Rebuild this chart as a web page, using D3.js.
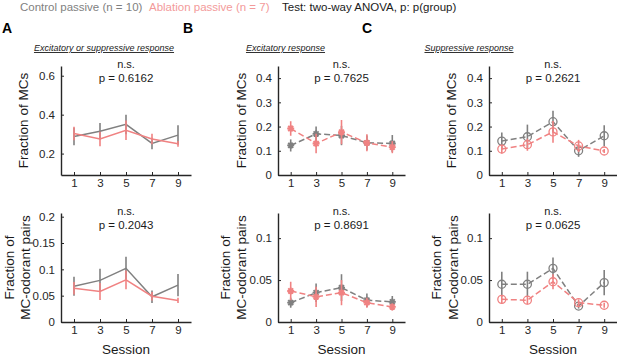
<!DOCTYPE html>
<html>
<head>
<meta charset="utf-8">
<script src="https://cdn.jsdelivr.net/npm/d3@7"></script>
<style>
  body { margin: 0; background: #fff; }
  svg { font-family: "Liberation Sans", Arial, sans-serif; }
</style>
</head>
<body>
<svg id="drawing_region"></svg>
<script>
const sessions = [1, 3, 5, 7, 9];

// A: excitatory or suppressive
const aCellsCtrl    = [0.288, 0.315, 0.350, 0.252, 0.295];
const aCellsCtrlErr = [0.045, 0.042, 0.050, 0.030, 0.050];
const aCellsAbl     = [0.303, 0.275, 0.320, 0.275, 0.250];
const aCellsAblErr  = [0.035, 0.037, 0.050, 0.027, 0.015];
const aPairsCtrl    = [0.068, 0.079, 0.102, 0.048, 0.070];
const aPairsCtrlErr = [0.018, 0.022, 0.022, 0.012, 0.021];
const aPairsAbl     = [0.064, 0.058, 0.080, 0.049, 0.041];
const aPairsAblErr  = [0.012, 0.016, 0.018, 0.008, 0.005];

// B: excitatory
const bCellsCtrl    = [0.122, 0.170, 0.163, 0.133, 0.130];
const bCellsCtrlErr = [0.025, 0.030, 0.040, 0.030, 0.035];
const bCellsAbl     = [0.192, 0.130, 0.177, 0.133, 0.115];
const bCellsAblErr  = [0.030, 0.040, 0.050, 0.035, 0.025];
const bPairsCtrl    = [0.023, 0.035, 0.041, 0.026, 0.024];
const bPairsCtrlErr = [0.006, 0.011, 0.016, 0.008, 0.007];
const bPairsAbl     = [0.037, 0.030, 0.035, 0.023, 0.018];
const bPairsAblErr  = [0.011, 0.012, 0.015, 0.006, 0.004];

// C: suppressive
const cCellsCtrl    = [0.140, 0.158, 0.220, 0.100, 0.162];
const cCellsCtrlErr = [0.035, 0.050, 0.045, 0.025, 0.043];
const cCellsAbl     = [0.107, 0.125, 0.178, 0.120, 0.099];
const cCellsAblErr  = [0.018, 0.025, 0.045, 0.025, 0.008];
const cPairsCtrl    = [0.045, 0.045, 0.064, 0.019, 0.047];
const cPairsCtrlErr = [0.015, 0.015, 0.013, 0.003, 0.015];
const cPairsAbl     = [0.027, 0.026, 0.048, 0.023, 0.020];
const cPairsAblErr  = [0.005, 0.005, 0.009, 0.004, 0.003];

const pValues = ['0.6162', '0.2043', '0.7625', '0.8691', '0.2621', '0.0625'];
const panelTitles = ['Excitatory or suppressive response', 'Excitatory response', 'Suppressive response'];
const panelLetters = ['A', 'B', 'C'];
const legendLabels = ['Control passive (n = 10)', 'Ablation passive (n = 7)', 'Test: two-way ANOVA, p: p(group)'];

const ticksCellsA = [0.2, 0.4, 0.6];
const ticksPairsA = [0, 0.05, 0.1, 0.15, 0.2];
const ticksCells  = [0, 0.1, 0.2, 0.3, 0.4];
const ticksPairs  = [0, 0.05, 0.1];

const GREY = '#808080';
const PINK = '#f08282';
const AXIS = '#262626';

const svg = d3.select('#drawing_region')
  .attr('width', 617)
  .attr('height', 356);

// legend line
const legendX = [20, 149, 282];
const legendColors = ['#7f7f7f', '#f39a9a', '#1a1a1a'];
legendLabels.forEach((t, i) => {
  svg.append('text')
    .attr('x', legendX[i]).attr('y', 10.5)
    .attr('font-size', 11.5)
    .attr('fill', legendColors[i])
    .text(t);
});

// panel letters and titles
const letterX = [2, 183, 362];
const titleX = [104, 285.5, 469];
panelLetters.forEach((l, i) => {
  svg.append('text')
    .attr('x', letterX[i]).attr('y', 32.5)
    .attr('font-size', 14).attr('font-weight', 'bold')
    .text(l);
  svg.append('text')
    .attr('x', titleX[i]).attr('y', 51)
    .attr('text-anchor', 'middle')
    .attr('font-size', 9).attr('font-style', 'italic')
    .attr('text-decoration', 'underline')
    .attr('fill', '#1a1a1a')
    .text(panelTitles[i]);
});

class Panel {
  constructor(config) {
    this.config = config;
    this.init();
  }
  init() {
    const c = this.config;
    this.xscale = d3.scaleLinear().domain([0, 10]).range(c.xrange);
    this.yscale = d3.scaleLinear().domain(c.ydomain).range(c.yrange);

    this.xaxis = d3.axisBottom(this.xscale)
      .tickValues(sessions)
      .tickFormat(d3.format('d'))
      .tickSizeInner(-3)
      .tickSizeOuter(0)
      .tickPadding(4);

    this.yaxis = d3.axisLeft(this.yscale)
      .tickValues(c.yticks)
      .tickFormat(d => String(d))
      .tickSizeInner(-3)
      .tickSizeOuter(0)
      .tickPadding(6);
  }
  render() {
    const c = this.config;
    const g = svg.append('g');

    const xg = g.append('g')
      .attr('transform', `translate(0, ${c.yrange[0]})`)
      .call(this.xaxis);
    const yg = g.append('g')
      .attr('transform', `translate(${c.xrange[0]}, 0)`)
      .call(this.yaxis);
    [xg, yg].forEach(a => {
      a.select('.domain').attr('stroke', AXIS).attr('stroke-width', 1.4);
      a.selectAll('.tick line').attr('stroke', AXIS);
      a.selectAll('.tick text').attr('font-size', 11.5).attr('fill', AXIS)
        .attr('font-family', '"Liberation Sans", Arial, sans-serif');
    });

    // two groups, control first
    const groups = [
      { mean: c.ctrl, err: c.ctrlErr, color: GREY },
      { mean: c.abl, err: c.ablErr, color: PINK }
    ];
    groups.forEach(grp => {
      const pts = sessions.map((s, i) => ({ x: s, y: grp.mean[i], e: grp.err[i] }));
      const line = d3.line()
        .x(d => this.xscale(d.x))
        .y(d => this.yscale(d.y));

      g.append('path')
        .attr('d', line(pts))
        .attr('fill', 'none')
        .attr('stroke', grp.color)
        .attr('stroke-width', 1.5)
        .attr('stroke-dasharray', c.marker ? '6,3' : null);

      g.selectAll(null)
        .data(pts)
        .enter()
        .append('line')
        .attr('x1', d => this.xscale(d.x))
        .attr('x2', d => this.xscale(d.x))
        .attr('y1', d => this.yscale(d.y - d.e))
        .attr('y2', d => this.yscale(d.y + d.e))
        .attr('stroke', grp.color)
        .attr('stroke-width', 1.6);

      if (c.marker === 'circle') {
        g.selectAll(null)
          .data(pts)
          .enter()
          .append('circle')
          .attr('cx', d => this.xscale(d.x))
          .attr('cy', d => this.yscale(d.y))
          .attr('r', 4)
          .attr('fill', 'none')
          .attr('stroke', grp.color)
          .attr('stroke-width', 1.3);
      } else if (c.marker === 'star') {
        const r = 3.5, q = r * 0.72;
        g.selectAll(null)
          .data(pts)
          .enter()
          .append('path')
          .attr('d', d => {
            const x = this.xscale(d.x), y = this.yscale(d.y);
            return `M${x - r},${y}L${x + r},${y}M${x},${y - r}L${x},${y + r}` +
              `M${x - q},${y - q}L${x + q},${y + q}M${x - q},${y + q}L${x + q},${y - q}`;
          })
          .attr('stroke', grp.color)
          .attr('stroke-width', 1.8);
      }
    });

    // significance text
    const cx = (c.xrange[0] + c.xrange[1]) / 2;
    g.append('text')
      .attr('x', cx).attr('y', c.yrange[1] + 2)
      .attr('text-anchor', 'middle').attr('font-size', 11)
      .attr('fill', '#1a1a1a')
      .text('n.s.');
    g.append('text')
      .attr('x', cx).attr('y', c.yrange[1] + 15.5)
      .attr('text-anchor', 'middle').attr('font-size', 11.5)
      .attr('fill', '#1a1a1a')
      .text('p = ' + c.p);

    // y label
    const ymid = (c.yrange[0] + c.yrange[1]) / 2;
    c.ylabel.forEach((t, i) => {
      g.append('text')
        .attr('transform', `translate(${c.labelX[i]}, ${ymid}) rotate(-90)`)
        .attr('text-anchor', 'middle')
        .attr('dy', '0.35em')
        .attr('font-size', 13.5)
        .attr('fill', '#1a1a1a')
        .text(t);
    });

    if (c.xlabel) {
      g.append('text')
        .attr('x', cx).attr('y', 353.5)
        .attr('text-anchor', 'middle')
        .attr('font-size', 13.5)
        .attr('fill', '#1a1a1a')
        .text('Session');
    }
  }
}

const topY = [175, 66];
const botY = [322, 213];

const panels = [
  { xrange: [61, 191], yrange: topY, ydomain: [0.09, 0.65], yticks: ticksCellsA,
    ctrl: aCellsCtrl, ctrlErr: aCellsCtrlErr, abl: aCellsAbl, ablErr: aCellsAblErr,
    marker: null, p: pValues[0], ylabel: ['Fraction of MCs'], labelX: [23] },
  { xrange: [61, 191], yrange: botY, ydomain: [0, 0.207], yticks: ticksPairsA,
    ctrl: aPairsCtrl, ctrlErr: aPairsCtrlErr, abl: aPairsAbl, ablErr: aPairsAblErr,
    marker: null, p: pValues[1], ylabel: ['Fraction of', 'MC-odorant pairs'], labelX: [9.5, 25], xlabel: true },
  { xrange: [278, 405], yrange: topY, ydomain: [0, 0.45], yticks: ticksCells,
    ctrl: bCellsCtrl, ctrlErr: bCellsCtrlErr, abl: bCellsAbl, ablErr: bCellsAblErr,
    marker: 'star', p: pValues[2], ylabel: ['Fraction of MCs'], labelX: [241.5] },
  { xrange: [278, 405], yrange: botY, ydomain: [0, 0.13], yticks: ticksPairs,
    ctrl: bPairsCtrl, ctrlErr: bPairsCtrlErr, abl: bPairsAbl, ablErr: bPairsAblErr,
    marker: 'star', p: pValues[3], ylabel: ['Fraction of', 'MC-odorant pairs'], labelX: [225, 241.5], xlabel: true },
  { xrange: [489, 617], yrange: topY, ydomain: [0, 0.45], yticks: ticksCells,
    ctrl: cCellsCtrl, ctrlErr: cCellsCtrlErr, abl: cCellsAbl, ablErr: cCellsAblErr,
    marker: 'circle', p: pValues[4], ylabel: ['Fraction of MCs'], labelX: [451.5] },
  { xrange: [489, 617], yrange: botY, ydomain: [0, 0.13], yticks: ticksPairs,
    ctrl: cPairsCtrl, ctrlErr: cPairsCtrlErr, abl: cPairsAbl, ablErr: cPairsAblErr,
    marker: 'circle', p: pValues[5], ylabel: ['Fraction of', 'MC-odorant pairs'], labelX: [436.5, 453], xlabel: true }
];

panels.forEach(cfg => {
  const panel = new Panel(cfg);
  panel.render();
});
</script>
</body>
</html>
